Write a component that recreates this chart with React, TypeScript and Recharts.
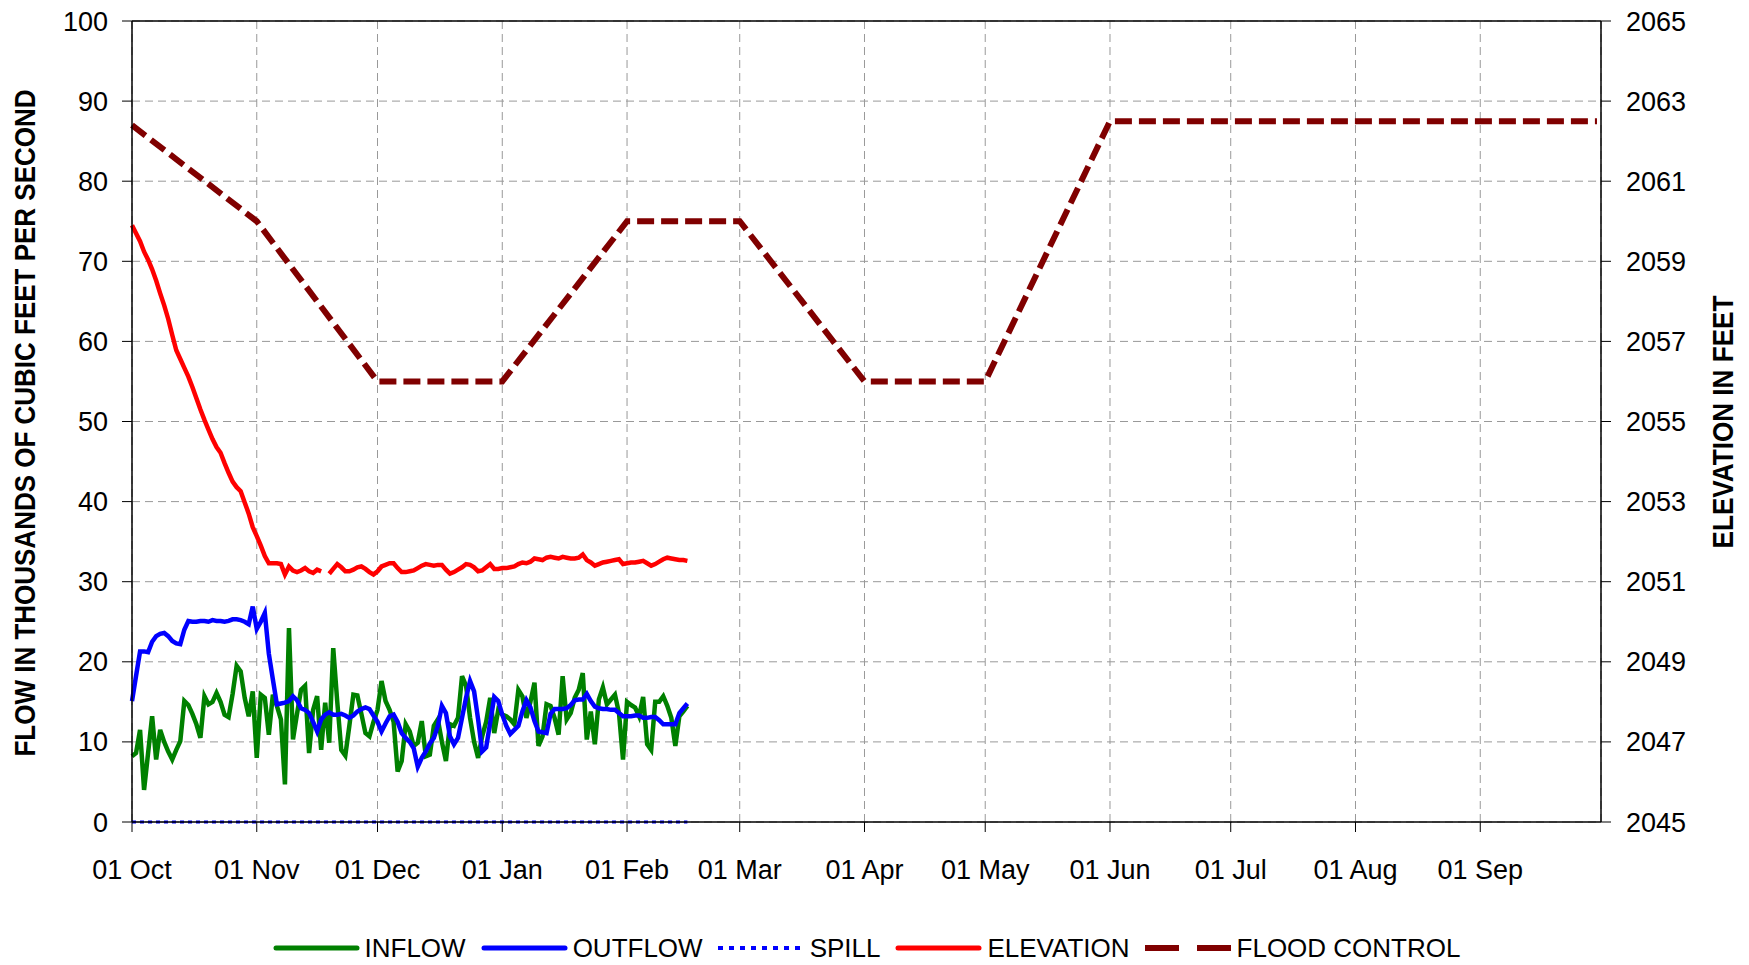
import React from "react";
import {
  LineChart,
  Line,
  XAxis,
  YAxis,
  CartesianGrid,
  ReferenceLine,
} from "recharts";

// day index 0 = 01 Oct, one value per day
const inflow = [
  8.2, 8.6, 11.5, 4.0, 8.6, 13.2, 7.8, 11.5, 10.0, 8.8,
  7.8, 9.0, 10.1, 15.1, 14.6, 13.5, 12.2, 10.5, 15.7, 14.7,
  15.0, 16.1, 15.0, 13.4, 13.1, 16.0, 19.5, 18.8, 15.5, 13.2,
  16.3, 8.0, 15.9, 15.5, 10.9, 15.9, 14.5, 12.8, 4.7, 24.2,
  10.3, 13.5, 16.5, 17.0, 8.6, 14.0, 15.7, 9.0, 14.9, 9.9,
  21.7, 15.0, 9.0, 8.3, 12.0, 15.9, 15.8, 13.5, 11.1, 10.7,
  12.5, 14.0, 17.6, 15.1, 14.0, 12.5, 6.3, 7.6, 12.2, 11.3,
  9.5, 9.9, 12.6, 8.2, 8.4, 12.0, 12.8, 10.0, 7.6, 12.2,
  12.0, 13.0, 18.2, 17.0, 13.0, 10.0, 8.0, 10.7, 12.5, 15.5,
  11.1, 14.0, 13.4, 13.2, 12.8, 12.2, 16.5, 15.7, 13.0, 15.0,
  17.4, 9.5, 10.7, 14.7, 14.5, 13.0, 10.9, 18.2, 12.8, 13.6,
  15.5, 16.5, 18.6, 10.3, 13.8, 9.7, 15.3, 16.8, 14.7, 15.3,
  15.9, 13.6, 7.8, 15.0, 14.6, 14.3, 13.2, 15.6, 9.7, 9.0,
  15.0, 15.0, 15.7, 14.5, 13.0, 9.5, 13.2, 13.8, 14.5,
];

const outflow = [
  15.1, 18.2, 21.3, 21.3, 21.2, 22.5, 23.2, 23.5, 23.6, 23.2,
  22.6, 22.3, 22.2, 24.0, 25.1, 25.0, 25.0, 25.1, 25.1, 25.0,
  25.2, 25.1, 25.1, 25.0, 25.1, 25.3, 25.3, 25.2, 25.0, 24.7,
  26.9, 24.1, 25.0, 26.1, 21.0, 17.8, 14.7, 14.8, 14.9, 15.1,
  15.7, 15.2, 14.2, 14.0, 13.6, 12.5, 11.3, 12.8, 13.4, 13.7,
  13.4, 13.4, 13.5, 13.3, 13.0, 13.3, 13.8, 14.1, 14.3, 14.1,
  13.3, 12.5, 11.3, 12.3, 13.2, 13.4, 12.5, 11.1, 10.5, 10.0,
  9.2, 6.9, 8.0, 8.8, 9.8, 10.5, 12.0, 14.5, 13.6, 10.7,
  9.7, 10.5, 13.0, 15.5, 17.6, 16.3, 12.8, 8.8, 9.3, 12.4,
  15.6, 15.1, 13.4, 12.0, 11.0, 11.5, 12.0, 13.8, 15.2, 14.3,
  12.6, 11.3, 11.2, 11.1, 13.5, 14.1, 14.1, 14.1, 14.2, 14.6,
  15.2, 15.3, 15.3, 16.0, 15.1, 14.4, 14.2, 14.1, 14.1, 14.0,
  14.0, 13.6, 13.2, 13.2, 13.2, 13.3, 13.3, 13.0, 13.0, 13.1,
  13.1, 12.7, 12.2, 12.2, 12.2, 12.2, 13.6, 14.2, 14.8,
];

const spill = [
  0, 0, 0, 0, 0, 0, 0, 0, 0, 0, 0, 0, 0, 0, 0, 0, 0, 0, 0, 0,
  0, 0, 0, 0, 0, 0, 0, 0, 0, 0, 0, 0, 0, 0, 0, 0, 0, 0, 0, 0,
  0, 0, 0, 0, 0, 0, 0, 0, 0, 0, 0, 0, 0, 0, 0, 0, 0, 0, 0, 0,
  0, 0, 0, 0, 0, 0, 0, 0, 0, 0, 0, 0, 0, 0, 0, 0, 0, 0, 0, 0,
  0, 0, 0, 0, 0, 0, 0, 0, 0, 0, 0, 0, 0, 0, 0, 0, 0, 0, 0, 0,
  0, 0, 0, 0, 0, 0, 0, 0, 0, 0, 0, 0, 0, 0, 0, 0, 0, 0, 0, 0,
  0, 0, 0, 0, 0, 0, 0, 0, 0, 0, 0, 0, 0, 0, 0, 0, 0, 0, 0,
];

// feet, null = missing day
const elevation = [
  2059.9, 2059.7, 2059.5, 2059.24, 2059.04, 2058.8, 2058.52, 2058.2, 2057.9, 2057.56,
  2057.16, 2056.78, 2056.56, 2056.34, 2056.12, 2055.86, 2055.58, 2055.3, 2055.04, 2054.8,
  2054.56, 2054.36, 2054.22, 2053.96, 2053.72, 2053.5, 2053.36, 2053.26, 2052.98, 2052.7,
  2052.36, 2052.14, 2051.9, 2051.64, 2051.46, 2051.46, 2051.46, 2051.44, 2051.18, 2051.38,
  2051.28, 2051.24, 2051.28, 2051.34, 2051.26, 2051.22, 2051.3, 2051.26, null, 2051.2,
  2051.32, 2051.44, 2051.36, 2051.26, 2051.26, 2051.3, 2051.36, 2051.38, 2051.32, 2051.24,
  2051.18, 2051.26, 2051.38, 2051.42, 2051.46, 2051.46, 2051.34, 2051.24, 2051.24, 2051.26,
  2051.28, 2051.34, 2051.4, 2051.44, 2051.42, 2051.4, 2051.42, 2051.42, 2051.3, 2051.2,
  2051.24, 2051.3, 2051.36, 2051.44, 2051.42, 2051.36, 2051.26, 2051.28, 2051.36, 2051.44,
  2051.32, 2051.32, 2051.34, 2051.34, 2051.36, 2051.38, 2051.44, 2051.48, 2051.46, 2051.5,
  2051.58, 2051.56, 2051.54, 2051.6, 2051.62, 2051.6, 2051.58, 2051.62, 2051.6, 2051.58,
  2051.58, 2051.6, 2051.68, 2051.54, 2051.48, 2051.4, 2051.44, 2051.48, 2051.5, 2051.52,
  2051.54, 2051.56, 2051.44, 2051.46, 2051.48, 2051.48, 2051.5, 2051.52, 2051.46, 2051.4,
  2051.44, 2051.5, 2051.56, 2051.6, 2051.58, 2051.56, 2051.54, 2051.54, 2051.52,
];

const floodDays = [0, 31, 61, 92, 123, 151, 182, 212, 243, 364];
const floodControl = [2062.4, 2060, 2056, 2056, 2060, 2060, 2056, 2056, 2062.5, 2062.5];

const monthTicks = [0, 31, 61, 92, 123, 151, 182, 212, 243, 273, 304, 335];
const monthLabels = [
  "01 Oct", "01 Nov", "01 Dec", "01 Jan", "01 Feb", "01 Mar",
  "01 Apr", "01 May", "01 Jun", "01 Jul", "01 Aug", "01 Sep",
];
const flowTicks = [0, 10, 20, 30, 40, 50, 60, 70, 80, 90, 100];
const elevTicks = [2045, 2047, 2049, 2051, 2053, 2055, 2057, 2059, 2061, 2063, 2065];

const rows: any[] = [];
for (let d = 0; d <= 364; d++) {
  const fi = floodDays.indexOf(d);
  rows.push({
    day: d,
    inflow: d < inflow.length ? inflow[d] : undefined,
    outflow: d < outflow.length ? outflow[d] : undefined,
    spill: d < spill.length ? spill[d] : undefined,
    elevation: d < elevation.length ? elevation[d] : undefined,
    flood: fi >= 0 ? floodControl[fi] : null,
  });
}

const font = "'Liberation Sans', Arial, sans-serif";
const tickStyle = { fill: "#000", fontSize: 27, fontFamily: font };

const legendItems = [
  { name: "INFLOW", color: "#008000", dash: undefined, width: 5, cap: "round" },
  { name: "OUTFLOW", color: "#0000ff", dash: undefined, width: 5, cap: "round" },
  { name: "SPILL", color: "#0000ff", dash: "5 6", width: 4, cap: "butt" },
  { name: "ELEVATION", color: "#ff0000", dash: undefined, width: 5, cap: "round" },
  { name: "FLOOD CONTROL", color: "#800000", dash: "34 18", width: 6, cap: "butt" },
];

function App() {
  return (
    <div style={{ position: "absolute", left: 0, top: 0, width: 1749, height: 965, background: "#fff" }}>
      <LineChart
        width={1749}
        height={965}
        data={rows}
        margin={{ top: 21, right: 0, bottom: 0, left: 0 }}
      >
        <CartesianGrid
          yAxisId="left"
          stroke="#999"
          strokeDasharray="8 5"
        />
        <XAxis
          dataKey="day"
          type="number"
          domain={[0, 365]}
          ticks={monthTicks}
          interval={0}
          tickFormatter={(v) => monthLabels[monthTicks.indexOf(v)] ?? ""}
          tick={tickStyle}
          tickSize={10}
          tickMargin={28}
          height={143}
          axisLine={{ stroke: "#000", strokeWidth: 1.5 }}
          tickLine={{ stroke: "#000" }}
        />
        <YAxis
          yAxisId="left"
          orientation="left"
          domain={[0, 100]}
          ticks={flowTicks}
          interval={0}
          tick={tickStyle}
          tickSize={10}
          tickMargin={14}
          width={132}
          axisLine={{ stroke: "#000", strokeWidth: 1.5 }}
          tickLine={{ stroke: "#000" }}
        />
        <YAxis
          yAxisId="right"
          orientation="right"
          domain={[2045, 2065]}
          ticks={elevTicks}
          interval={0}
          tick={tickStyle}
          tickSize={10}
          tickMargin={15}
          width={148}
          axisLine={{ stroke: "#000", strokeWidth: 1.5 }}
          tickLine={{ stroke: "#000" }}
        />
        <ReferenceLine yAxisId="left" y={100} stroke="#000" strokeWidth={1.5} />
        <Line
          yAxisId="left"
          dataKey="inflow"
          stroke="#008000"
          strokeWidth={4.5}
          dot={false}
          isAnimationActive={false}
        />
        <Line
          yAxisId="left"
          dataKey="outflow"
          stroke="#0000ff"
          strokeWidth={4.5}
          dot={false}
          isAnimationActive={false}
        />
        <Line
          yAxisId="left"
          dataKey="spill"
          stroke="#0000ff"
          strokeWidth={3}
          strokeDasharray="4 4"
          dot={false}
          isAnimationActive={false}
        />
        <Line
          yAxisId="right"
          dataKey="elevation"
          stroke="#ff0000"
          strokeWidth={4.5}
          dot={false}
          isAnimationActive={false}
        />
        <Line
          yAxisId="right"
          dataKey="flood"
          stroke="#800000"
          strokeWidth={6}
          strokeDasharray="17 7"
          connectNulls
          dot={false}
          isAnimationActive={false}
        />
      </LineChart>

      {/* axis titles */}
      <svg
        width={1749}
        height={965}
        style={{ position: "absolute", left: 0, top: 0, pointerEvents: "none" }}
      >
        <text
          x={25}
          y={423}
          transform="rotate(-90, 25, 423)"
          textAnchor="middle"
          dominantBaseline="central"
          fontFamily={font}
          fontWeight="bold"
          fontSize={29}
          textLength={667}
          lengthAdjust="spacingAndGlyphs"
        >
          FLOW IN THOUSANDS OF CUBIC FEET PER SECOND
        </text>
        <text
          x={1723}
          y={422}
          transform="rotate(-90, 1723, 422)"
          textAnchor="middle"
          dominantBaseline="central"
          fontFamily={font}
          fontWeight="bold"
          fontSize={29}
          textLength={253}
          lengthAdjust="spacingAndGlyphs"
        >
          ELEVATION IN FEET
        </text>
      </svg>

      <div
        style={{
          position: "absolute",
          left: 132,
          top: 932,
          width: 1469,
          display: "flex",
          justifyContent: "center",
          alignItems: "center",
          fontFamily: font,
          fontSize: 26,
          lineHeight: "32px",
          color: "#000",
        }}
      >
        {legendItems.map((it, i) => (
          <div
            key={it.name}
            style={{ display: "flex", alignItems: "center", marginRight: i < legendItems.length - 1 ? 15 : 0 }}
          >
            <svg width={87} height={12} style={{ marginRight: 5 }}>
              <line
                x1={it.cap === "round" ? 3 : 0}
                y1={6}
                x2={it.cap === "round" ? 84 : 87}
                y2={6}
                stroke={it.color}
                strokeWidth={it.width}
                strokeDasharray={it.dash}
                strokeLinecap={it.cap as any}
              />
            </svg>
            <span>{it.name}</span>
          </div>
        ))}
      </div>
    </div>
  );
}

export default App;
